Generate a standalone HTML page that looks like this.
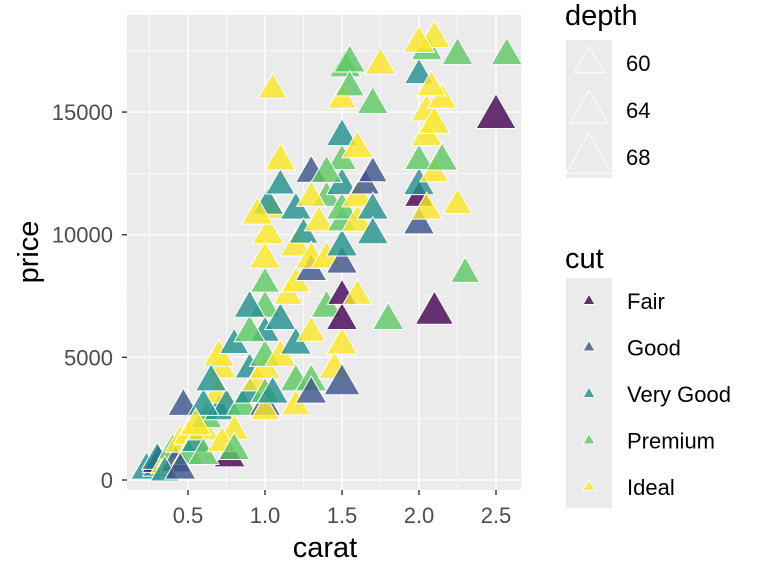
<!DOCTYPE html>
<html><head><meta charset="utf-8"><style>
body{margin:0;background:#fff;font-family:"Liberation Sans",Arial,sans-serif}
svg text{font-family:"Liberation Sans",Arial,sans-serif}
</style></head><body>
<svg id="chart" width="768" height="576" viewBox="0 0 768 576" xmlns="http://www.w3.org/2000/svg">
<rect x="127" y="15" width="394" height="475" fill="#ebebeb"/>
<g id="grid"></g>
<g id="points"></g>
<g id="axes"></g>
<text x="325" y="557" font-size="29" text-anchor="middle">carat</text>
<text transform="translate(38,252) rotate(-90)" font-size="29" text-anchor="middle">price</text>
<g id="legend"></g>
</svg>
<script>
// data: carat, price, cut index, depth
const carat=[0.23,0.3,0.31,0.3,0.35,0.4,0.4,0.42,0.45,0.5,0.5,0.47,0.77,0.55,0.6,0.62,0.7,0.7,0.72,0.7,0.75,0.8,0.85,0.9,0.9,0.95,1.0,1.0,1.0,1.0,1.0,1.0,1.0,1.0,1.02,1.05,1.1,1.05,1.1,1.1,1.15,1.2,1.2,1.2,1.2,1.2,1.25,1.3,1.3,1.3,1.3,1.35,1.4,1.4,1.4,1.45,1.5,1.5,1.5,1.5,1.5,1.5,1.5,1.5,1.5,1.5,1.5,1.5,1.52,1.55,1.6,1.6,1.6,1.65,1.7,1.7,1.7,1.7,1.75,1.8,2.0,2.0,2.0,2.05,2.0,2.05,2.05,2.0,2.05,2.1,2.1,2.1,2.1,2.15,2.15,2.25,2.3,2.25,2.5,2.57,2.0,2.08,1.02,0.95,1.1,1.3,1.3,1.4,1.6,1.55,0.6,0.65,0.8,0.9,0.9,1.0,0.55,0.35,0.45,0.6,0.72,0.8,1.05,1.2,1.3];
const price=[400,500,700,800,600,900,1200,700,1500,1800,1000,3000,900,1500,2000,2500,2800,3500,4500,5000,3000,2000,3000,3500,4500,4000,3000,3500,4500,5000,6000,7000,8000,9000,10000,11000,13000,15900,5000,6500,7500,4000,5500,8000,9500,11000,10000,4000,6000,8500,9000,10500,7000,9000,11500,4500,3900,5500,6500,7500,8800,9500,10500,11000,12000,13000,14000,15500,16800,17000,7500,10500,11500,12000,11000,10000,12500,15300,16900,6500,10400,11500,12000,11000,13000,14000,15000,16500,17500,18000,6800,12500,14500,13000,15500,11200,8400,17300,14800,17300,17800,16000,11200,10800,12000,12500,11500,12500,13500,16000,3000,4000,5500,6000,7000,2800,2200,300,400,1000,1500,1200,3500,3000,3500];
const cut=[2,2,0,2,4,4,3,1,4,4,3,1,0,2,4,3,2,4,4,4,2,4,3,2,2,4,1,3,4,3,2,3,3,4,4,4,4,4,4,2,4,3,2,4,4,2,2,3,4,1,4,4,3,4,3,4,1,4,0,0,1,2,3,3,2,3,2,4,3,3,4,4,4,1,2,2,1,3,4,3,1,0,2,4,3,4,4,2,3,4,0,4,4,3,4,4,3,3,0,3,4,4,2,4,2,1,4,3,4,3,2,2,2,3,2,4,4,2,1,3,4,3,2,4,1];
const depth=[60.5,59.5,61.5,60.5,59.5,60.5,59.5,60.5,60.5,59.5,60.5,60.5,60.5,59.5,60.5,60.5,59.5,60.5,59.5,60.5,60.5,59.5,60.5,60.5,59.5,60.5,60.5,59.5,60.5,60.5,59.5,60.5,59.5,60.5,60.5,59.5,60.5,59.5,60.5,60.5,59.5,60.5,60.5,59.5,60.5,60.5,59.5,60.5,59.5,60.5,60.5,59.5,60.5,60.5,59.5,60.5,63,60.5,60.5,59.5,60.5,60.5,59.5,60.5,60.5,59.5,60.5,59.5,60.5,60.5,59.5,60.5,60.5,59.5,60.5,60.5,59.5,60.5,60.5,60.5,60.5,59.5,60.5,60.5,59.5,60.5,60.5,59.5,60.5,60.5,64,59.5,60.5,60.5,59.5,59.5,59.5,60.5,65,60.5,60.5,59.5,60.5,60.5,59.5,60.5,59.5,60.5,60.5,59.5,60.5,60.5,59.5,60.5,60.5,59.5,60.5,59.5,60.5,60.5,59.5,60.5,60.5,59.5,60.5];
const cutLabels=["Fair","Good","Very Good","Premium","Ideal"];
const xTicks=[0.5,1.0,1.5,2.0,2.5];
const yTicks=[0,5000,10000,15000];
const depthBreaks=[60,64,68];
const colors=["#440154","#3B528B","#21908C","#5DC863","#FDE725"];
const NS="http://www.w3.org/2000/svg";
const X=v=>111+v*154, Y=v=>480-v*0.02453;
const W=d=>30+(d-60)*2;
function mk(p,t,a){const e=document.createElementNS(NS,t);for(const k in a)e.setAttribute(k,a[k]);p.appendChild(e);return e;}
function tri(cx,cy,w){const h=w*0.87;return `${cx-w/2},${cy+h/3} ${cx+w/2},${cy+h/3} ${cx},${cy-2*h/3}`;}
const g=document.getElementById('grid');
[0.25,0.75,1.25,1.75,2.25].forEach(v=>{const l=mk(g,'line',{x1:X(v),x2:X(v),y1:15,y2:490,stroke:'#fff','stroke-width':0.7});

});
[2500,7500,12500,17500].forEach(v=>{const l=mk(g,'line',{x1:127,x2:521,y1:Y(v),y2:Y(v),stroke:'#fff','stroke-width':0.7});

});
const ax=document.getElementById('axes');
xTicks.forEach(v=>{const l=mk(g,'line',{x1:X(v),x2:X(v),y1:15,y2:490,stroke:'#fff','stroke-width':1.4});


const t=mk(ax,'line',{x1:X(v),x2:X(v),y1:490,y2:495,stroke:'#333','stroke-width':1.4});


const s=mk(ax,'text',{x:X(v),y:523,'font-size':22,fill:'#4d4d4d','text-anchor':'middle'});s.textContent=v.toFixed(1);

});
yTicks.forEach(v=>{const l=mk(g,'line',{x1:127,x2:521,y1:Y(v),y2:Y(v),stroke:'#fff','stroke-width':1.4});


const t=mk(ax,'line',{x1:122,x2:127,y1:Y(v),y2:Y(v),stroke:'#333','stroke-width':1.4});


const s=mk(ax,'text',{x:113,y:Y(v)+8,'font-size':22,fill:'#4d4d4d','text-anchor':'end'});s.textContent=v;

});
const pg=document.getElementById('points');
for(let i=0;i<carat.length;i++){
const p=mk(pg,'polygon',{points:tri(X(carat[i]),Y(price[i]),W(depth[i])),fill:colors[cut[i]],'fill-opacity':0.8,stroke:'#fff','stroke-width':1});

}
const lg=document.getElementById('legend');
let t=mk(lg,'text',{x:565,y:25,'font-size':29});t.textContent='depth';


let r=mk(lg,'rect',{x:566,y:40,width:46,height:138,fill:'#ebebeb'});


depthBreaks.forEach((d,i)=>{const cy=[64,112,160][i];
const p=mk(lg,'polygon',{points:tri(589,cy,W(d)),fill:'none',stroke:'#fff','stroke-width':1});


const s=mk(lg,'text',{x:626,y:[71,118,165][i],'font-size':22});s.textContent=d;

});
t=mk(lg,'text',{x:565,y:268,'font-size':29});t.textContent='cut';


r=mk(lg,'rect',{x:566,y:278,width:46,height:230,fill:'#ebebeb'});


cutLabels.forEach((c,i)=>{const cy=301+i*46.5;
const p=mk(lg,'polygon',{points:tri(589,cy,12),fill:colors[i],'fill-opacity':0.8,stroke:'#fff','stroke-width':1});


const s=mk(lg,'text',{x:627,y:cy+8,'font-size':22});s.textContent=c;

});
</script>
</body></html>
